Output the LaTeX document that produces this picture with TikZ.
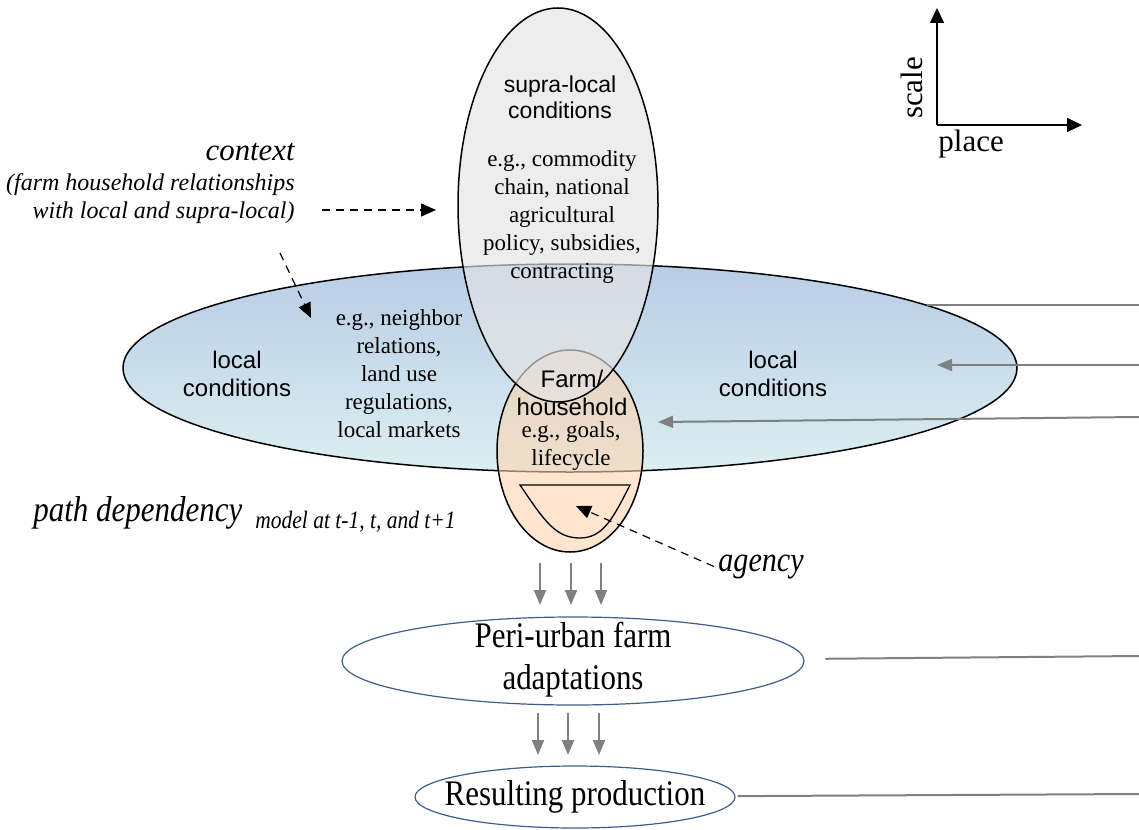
\documentclass[tikz,border=0pt]{standalone}
\usepackage{fontspec}
\setmainfont{Liberation Serif}
\setsansfont{Liberation Sans}
\newfontfamily\condfont{Liberation Serif}[FakeStretch=0.86]
\usetikzlibrary{shapes.geometric}
\usetikzlibrary{arrows.meta}

\definecolor{localtop}{RGB}{184,204,229}
\definecolor{localbot}{RGB}{220,239,241}
\definecolor{supragrey}{RGB}{228,228,228}
\definecolor{farmpeach}{RGB}{251,212,176}
\definecolor{linegrey}{RGB}{128,128,128}
\definecolor{ovalblue}{RGB}{62,92,140}

\begin{document}
\begin{tikzpicture}[x=0.5pt,y=-0.5pt,
  every node/.style={inner sep=0pt},
  oval/.style={draw,ellipse,inner sep=0pt,line width=0.75pt},
  sanstext/.style={font=\sffamily\fontsize{12}{14}\selectfont,align=center},
  egtext/.style={font=\fontsize{11.5}{14}\selectfont,align=center},
  bigtext/.style={font=\condfont\fontsize{18}{21}\selectfont,align=center},
  greyline/.style={draw=linegrey,line width=1pt},
  greyarrow/.style={greyline,-{Triangle[length=7.5pt,width=6pt]}},
  dasharrow/.style={dash pattern=on 4pt off 3pt,line width=0.6pt,-{Triangle[length=7.5pt,width=6.5pt]}},
  axisarrow/.style={line width=0.8pt,-{Triangle[length=7.5pt,width=7pt]}}]
\useasboundingbox (0,0) rectangle (1139,829);

%ovals
\node[oval,top color=localtop,bottom color=localbot,minimum width=447pt,minimum height=104pt] (local) at (570,368) {};
\node[oval,fill=farmpeach,fill opacity=0.6,minimum width=73pt,minimum height=101pt] (farm) at (570,451) {};
\node[oval,fill=supragrey,fill opacity=0.65,minimum width=100pt,minimum height=197pt] (supra) at (558,205) {};
\node[oval,draw=ovalblue,line width=0.6pt,minimum width=231pt,minimum height=44pt] (peri) at (573,661) {};
\node[oval,draw=ovalblue,line width=0.6pt,minimum width=160pt,minimum height=31pt] (result) at (575,797) {};

%agency shape
\draw[line width=0.65pt] (520,485) .. controls (545,522) and (556,538) .. (580,538)
  .. controls (604,538) and (614,516) .. (630,485) -- cycle;

%texts
\node[sanstext,font=\sffamily\fontsize{11.5}{13}\selectfont] (supratitle) at (560,97) {supra-local\\conditions};
\node[egtext] (supraeg) at (562,217) {e.g., commodity\\chain, national\\agricultural\\policy, subsidies,\\contracting};
\node[sanstext] (localleft) at (237,374) {local\\conditions};
\node[egtext] (localeg) at (399,374) {e.g., neighbor\\relations,\\land use\\regulations,\\local markets};
\node[sanstext] (localright) at (773,374) {local\\conditions};
\node[sanstext] (farmtitle) at (572,393) {Farm/\\household};
\node[egtext] (farmeg) at (571,446) {e.g., goals,\\lifecycle};
\node[bigtext] (peritext) at (573,660) {Peri-urban farm\\adaptations};
\node[bigtext] (resulttext) at (575,797) {Resulting production};

\node[anchor=base east,font=\itshape\fontsize{15.4}{18}\selectfont] (context) at (295,160) {context};
\node[anchor=base east,align=right,font=\itshape\fontsize{12}{14}\selectfont] (contextsub) at (295,218) {(farm household relationships\\with local and supra-local)};
\node[anchor=base west,font=\condfont\itshape\fontsize{18}{20}\selectfont] (path) at (33,521) {path dependency};
\node[anchor=base west,font=\condfont\itshape\fontsize{12.5}{14}\selectfont] (pathsub) at (255,528) {model at t-1, t, and t+1};
\node[anchor=base west,font=\condfont\itshape\fontsize{17.5}{20}\selectfont] (agency) at (718,571) {agency};

%axes
\coordinate (origin) at (937,125);
\coordinate (scaletop) at (937,8);
\coordinate (placeend) at (1082,125);
\draw[axisarrow] (origin) -- (scaletop);
\draw[axisarrow] (origin) -- (placeend);
\node[rotate=90,font=\fontsize{15.5}{18}\selectfont] (scale) at (912,88) {scale};
\node[anchor=base west,font=\fontsize{15.5}{18}\selectfont] (place) at (938,151) {place};

%dashed arrows
\coordinate (c1) at (322,210);
\coordinate (c2) at (436,210);
\coordinate (c3) at (280,253);
\coordinate (c4) at (311,318);
\coordinate (tip) at (576,506);
\draw[dasharrow] (c1) -- (c2);
\draw[dasharrow] (c3) -- (c4);
\draw[dasharrow] ([xshift=-2pt]agency.west) -- (tip);

%grey connectors
\coordinate (r1) at (1139,305);
\coordinate (l1) at (927,305);
\coordinate (r2) at (1139,365);
\coordinate (l2) at (937,365);
\coordinate (r3) at (1139,417);
\coordinate (f3) at (658,422);
\coordinate (r4) at (1139,656);
\coordinate (r5) at (1139,794);
\draw[greyline] (r1) -- (l1);
\draw[greyarrow] (r2) -- (l2);
\draw[greyarrow] (r3) -- (f3);
\draw[greyline,shorten >=10.5pt] (r4) -- (peri);
\draw[greyline,shorten >=1pt] (r5) -- (result);

%triple arrows
\foreach \x [count=\i] in {540,571,601}{
	\coordinate (a\i) at (\x,563);
	\coordinate (b\i) at (\x,605);
	\draw[greyarrow] (a\i) -- (b\i);}
\foreach \x [count=\i] in {538,568,599}{
	\coordinate (d\i) at (\x,713);
	\coordinate (e\i) at (\x,755);
	\draw[greyarrow] (d\i) -- (e\i);}
\end{tikzpicture}
\end{document}
